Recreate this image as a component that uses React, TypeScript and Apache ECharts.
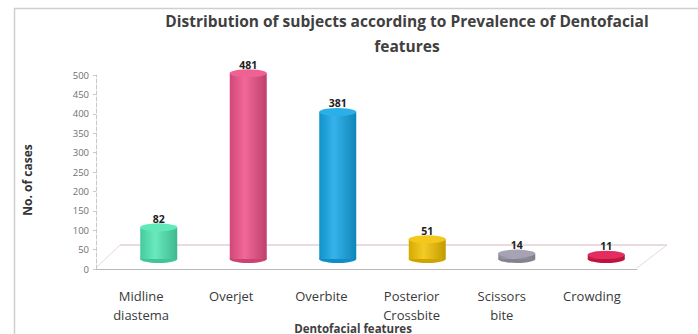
import React, { useEffect, useRef } from "react";
import * as echarts from "echarts";

const categories = ["Midline\ndiastema", "Overjet", "Overbite", "Posterior\nCrossbite", "Scissors\nbite", "Crowding"];
const values = [82, 481, 381, 51, 14, 11];
const barColors = ["#4fe6b2", "#ee4f87", "#12a6e6", "#f2c200", "#9c9aaa", "#e0164c"];
const yTicks = { min: 0, max: 500, interval: 50 };
const titleText = "Distribution of subjects according to Prevalence of Dentofacial\nfeatures";
const yAxisTitle = "No. of cases";
const xAxisTitle = "Dentofacial features";

function shade(hex: string, f: number): string {
  const n = parseInt(hex.slice(1), 16);
  let r = (n >> 16) & 255, g = (n >> 8) & 255, b = n & 255;
  if (f >= 0) {
    r = Math.round(r + (255 - r) * f); g = Math.round(g + (255 - g) * f); b = Math.round(b + (255 - b) * f);
  } else {
    r = Math.round(r * (1 + f)); g = Math.round(g * (1 + f)); b = Math.round(b * (1 + f));
  }
  return `rgb(${r},${g},${b})`;
}

const FONT = "'Open Sans', Lato, sans-serif";

export default function App() {
  const ref = useRef<HTMLDivElement>(null);
  useEffect(() => {
    if (!ref.current) return;
    const chart = echarts.init(ref.current, null, { renderer: "svg" });
    const bodyData = values.map((v, i) => ({
      value: v,
      itemStyle: {
        color: new echarts.graphic.LinearGradient(0, 0, 1, 0, [
          { offset: 0, color: shade(barColors[i], -0.12) },
          { offset: 0.4, color: shade(barColors[i], 0.15) },
          { offset: 1, color: shade(barColors[i], -0.2) },
        ]),
      },
    }));
    const topData = values.map((v, i) => ({ value: v, itemStyle: { color: shade(barColors[i], 0.1) } }));
    const botData = values.map((v, i) => ({ value: v, itemStyle: { color: shade(barColors[i], -0.15) } }));

    chart.setOption({
      animation: false,
      backgroundColor: "#ffffff",
      title: {
        text: titleText,
        left: 402,
        top: 3,
        textAlign: "center",
        textStyle: { fontFamily: FONT, fontSize: 15.5, fontWeight: "bold", color: "#404040", lineHeight: 25 },
      },
      grid: [
        { left: 96, right: 61, top: 75, bottom: 65, containLabel: false },
        { left: 114, right: 47, top: 66, bottom: 75, containLabel: false },
      ],
      xAxis: [
        {
          type: "category",
          gridIndex: 0,
          data: categories,
          axisLine: { show: true, lineStyle: { color: "#b8b8b8", width: 1 } },
          axisTick: { show: false },
          axisLabel: {
            margin: 17,
            interval: 0,
            fontFamily: FONT,
            fontSize: 13,
            fontWeight: "normal",
            color: "#3a3a3a",
            lineHeight: 19,
          },
        },
        {
          type: "category",
          gridIndex: 1,
          data: categories,
          show: false,
        },
      ],
      yAxis: [
        {
          type: "value",
          gridIndex: 0,
          min: yTicks.min,
          max: yTicks.max,
          interval: yTicks.interval,
          axisLine: { show: true, lineStyle: { color: "#c8c8c8", type: "dashed", width: 1 } },
          axisTick: { show: true, length: 3, lineStyle: { color: "#c8c8c8" } },
          splitLine: { show: false },
          axisLabel: { margin: 7, fontFamily: FONT, fontSize: 9.5, color: "#707070" },
        },
        {
          type: "value",
          gridIndex: 1,
          min: yTicks.min,
          max: yTicks.max,
          interval: yTicks.interval,
          show: false,
          splitLine: { show: false },
        },
      ],
      series: [
        {
          type: "bar",
          xAxisIndex: 1,
          yAxisIndex: 1,
          barWidth: 37,
          data: bodyData,
          z: 3,
          label: {
            show: true,
            position: "top",
            distance: 3,
            fontFamily: FONT,
            fontSize: 10.5,
            fontWeight: "bold",
            color: "#222222",
          },
        },
        {
          type: "pictorialBar",
          xAxisIndex: 1,
          yAxisIndex: 1,
          symbol: "circle",
          symbolSize: [37, 8],
          symbolOffset: [0, "50%"],
          data: botData,
          z: 2,
        },
        {
          type: "pictorialBar",
          xAxisIndex: 1,
          yAxisIndex: 1,
          symbol: "circle",
          symbolSize: [37, 8],
          symbolPosition: "end",
          symbolOffset: [0, "-50%"],
          data: topData,
          z: 4,
        },
      ],
      graphic: [
        {
          type: "rect",
          shape: { x: 14.5, y: 8.5, width: 720, height: 360 },
          style: { fill: "none", stroke: "#cfcfcf", lineWidth: 1.5 },
          z: -1,
        },
        {
          type: "line",
          shape: { x1: 120, y1: 245, x2: 667, y2: 245 },
          style: { stroke: "#e3cfd6", lineWidth: 1.5 },
          z: 0,
        },
        {
          type: "line",
          shape: { x1: 96, y1: 268, x2: 120, y2: 245 },
          style: { stroke: "#dcdcdc", lineWidth: 1 },
          z: 0,
        },
        {
          type: "line",
          shape: { x1: 637, y1: 268, x2: 667, y2: 245 },
          style: { stroke: "#dcdcdc", lineWidth: 1 },
          z: 0,
        },
        {
          type: "text",
          x: 27,
          y: 180,
          rotation: Math.PI / 2,
          style: {
            text: yAxisTitle,
            fontFamily: FONT,
            fontSize: 12,
            fontWeight: "bold",
            fill: "#333333",
            align: "center",
            verticalAlign: "middle",
          },
        },
        {
          type: "text",
          x: 353,
          y: 328,
          style: {
            text: xAxisTitle,
            fontFamily: FONT,
            fontSize: 11.5,
            fontWeight: "bold",
            fill: "#404040",
            align: "center",
            verticalAlign: "middle",
          },
        },
      ],
    });
    return () => chart.dispose();
  }, []);
  return (
    <div
      ref={ref}
      style={{ position: "fixed", left: 0, top: 0, width: 698, height: 334, background: "#fff" }}
    />
  );
}
